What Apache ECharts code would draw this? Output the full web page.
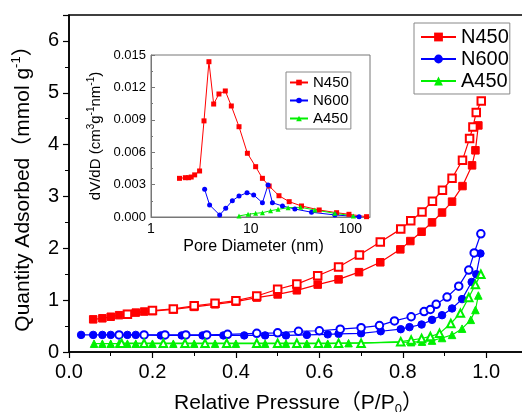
<!DOCTYPE html>
<html>
<head>
<meta charset="utf-8">
<script src="https://cdn.jsdelivr.net/npm/echarts@6/dist/echarts.min.js"></script>
<style>
  html, body { margin: 0; padding: 0; background: #fff; }
  #chart { width: 522px; height: 412px; }
</style>
</head>
<body>
<div id="chart"></div>
<script>
// isotherms: filled = adsorption, open = desorption
const n450AdsP = [0.058, 0.08, 0.10, 0.12, 0.14, 0.16, 0.18, 0.20, 0.25, 0.30, 0.35, 0.40, 0.45, 0.50, 0.546, 0.596, 0.646, 0.695, 0.746, 0.794, 0.818, 0.845, 0.87, 0.894, 0.918, 0.943, 0.966, 0.974, 0.981];
const n450AdsQ = [0.63, 0.65, 0.68, 0.71, 0.73, 0.76, 0.78, 0.79, 0.82, 0.87, 0.92, 0.97, 1.05, 1.11, 1.19, 1.30, 1.40, 1.54, 1.73, 1.98, 2.14, 2.32, 2.50, 2.69, 2.90, 3.20, 3.60, 3.89, 4.37];
const n450DesP = [0.14, 0.20, 0.25, 0.30, 0.35, 0.40, 0.45, 0.50, 0.546, 0.596, 0.646, 0.696, 0.746, 0.795, 0.819, 0.846, 0.871, 0.895, 0.918, 0.943, 0.960, 0.968, 0.976, 0.988];
const n450DesQ = [0.73, 0.80, 0.83, 0.89, 0.94, 0.99, 1.08, 1.21, 1.31, 1.47, 1.64, 1.87, 2.12, 2.37, 2.53, 2.70, 2.91, 3.12, 3.35, 3.70, 4.12, 4.34, 4.62, 4.84];

const n600AdsP = [0.029, 0.058, 0.08, 0.10, 0.14, 0.16, 0.22, 0.27, 0.32, 0.37, 0.42, 0.47, 0.52, 0.57, 0.62, 0.646, 0.70, 0.747, 0.795, 0.816, 0.845, 0.87, 0.894, 0.918, 0.942, 0.965, 0.976, 0.986];
const n600AdsQ = [0.33, 0.33, 0.33, 0.33, 0.33, 0.33, 0.32, 0.32, 0.32, 0.32, 0.32, 0.32, 0.32, 0.33, 0.34, 0.35, 0.36, 0.40, 0.44, 0.48, 0.53, 0.62, 0.71, 0.84, 1.02, 1.35, 1.50, 1.90];
const n600DesP = [0.12, 0.18, 0.23, 0.28, 0.33, 0.38, 0.45, 0.50, 0.55, 0.60, 0.65, 0.70, 0.744, 0.78, 0.82, 0.851, 0.866, 0.88, 0.906, 0.934, 0.958, 0.971, 0.987];
const n600DesQ = [0.33, 0.33, 0.33, 0.33, 0.33, 0.34, 0.36, 0.37, 0.40, 0.41, 0.44, 0.47, 0.51, 0.60, 0.68, 0.78, 0.82, 0.92, 1.06, 1.27, 1.58, 1.91, 2.28];

const a450AdsP = [0.06, 0.08, 0.10, 0.12, 0.14, 0.16, 0.20, 0.25, 0.30, 0.35, 0.40, 0.47, 0.52, 0.57, 0.62, 0.67, 0.82, 0.846, 0.87, 0.894, 0.918, 0.942, 0.963, 0.974, 0.981];
const a450AdsQ = [0.16, 0.16, 0.16, 0.16, 0.16, 0.16, 0.16, 0.16, 0.16, 0.16, 0.16, 0.16, 0.16, 0.16, 0.16, 0.17, 0.19, 0.20, 0.22, 0.27, 0.33, 0.45, 0.62, 0.81, 1.09];
const a450DesP = [0.126, 0.18, 0.226, 0.278, 0.326, 0.378, 0.45, 0.50, 0.546, 0.598, 0.646, 0.70, 0.795, 0.82, 0.845, 0.866, 0.888, 0.915, 0.938, 0.958, 0.974, 0.987];
const a450DesQ = [0.17, 0.17, 0.17, 0.17, 0.17, 0.17, 0.17, 0.17, 0.17, 0.17, 0.17, 0.17, 0.20, 0.23, 0.26, 0.30, 0.36, 0.55, 0.75, 1.05, 1.30, 1.50];

// inset: pore size distribution
const n450PoreD = [1.93, 2.21, 2.38, 2.53, 2.74, 3.07, 3.40, 3.81, 4.25, 4.80, 5.56, 6.39, 7.63, 9.26, 11.2, 13.1, 15.3, 19.2, 24.3, 32.3, 48.6, 72.6, 96.6, 145];
const n450PoreV = [0.00358, 0.00364, 0.00364, 0.0037, 0.0039, 0.00426, 0.0089, 0.01438, 0.01046, 0.01139, 0.01167, 0.01028, 0.00836, 0.0059, 0.00466, 0.00358, 0.00287, 0.00197, 0.00142, 0.00102, 0.00065, 0.0004, 0.00025, 0.00003];
const n600PoreD = [3.45, 3.87, 4.88, 5.61, 6.54, 7.63, 9.18, 10.7, 13.1, 14.9, 16.5, 20.8, 27.7, 40.7, 69.8, 122];
const n600PoreV = [0.00256, 0.00111, 0.00019, 0.0008, 0.00151, 0.00194, 0.00225, 0.00204, 0.00132, 0.00296, 0.00132, 0.00102, 0.00074, 0.00044, 0.00019, 0.00003];
const a450PoreD = [7.63, 9.4, 11.2, 13.1, 15.8, 18.8, 23.7, 31.6, 44, 69.8, 107];
const a450PoreV = [0.0001, 0.00025, 0.00034, 0.0004, 0.00058, 0.00071, 0.00086, 0.0009, 0.00065, 0.00034, 0.0001];

const sampleNames = ['N450', 'N600', 'A450'];
const colors = ['#ff0000', '#0000ff', '#00f000'];

const FONT = '"Liberation Sans", Arial, "Noto Sans CJK SC", sans-serif';

function zip(xs, ys) {
  return xs.map((x, i) => [x, ys[i]]);
}

function mainSeries(name, xs, ys, symbol, color) {
  return {
    name: name,
    type: 'line',
    xAxisIndex: 0,
    yAxisIndex: 0,
    data: zip(xs, ys),
    symbol: symbol,
    symbolSize: 7.5,
    showAllSymbol: true,
    color: color,
    lineStyle: { width: 1.2, color: color },
    itemStyle: { color: color, borderColor: color },
    emphasis: { disabled: true }
  };
}

function insetSeries(name, xs, ys, symbol, color) {
  return {
    name: name,
    type: 'line',
    xAxisIndex: 1,
    yAxisIndex: 1,
    data: zip(xs, ys),
    symbol: symbol,
    symbolSize: 5,
    showAllSymbol: true,
    color: color,
    lineStyle: { width: 1, color: color },
    itemStyle: { color: color },
    emphasis: { disabled: true }
  };
}

const chart = echarts.init(document.getElementById('chart'));

const option = {
  animation: false,
  backgroundColor: '#fff',
  textStyle: { fontFamily: FONT, color: '#000' },
  legend: [
    {
      data: sampleNames,
      orient: 'vertical',
      left: 414,
      top: 23,
      itemWidth: 35,
      itemHeight: 11,
      itemGap: 2,
      padding: [4, 1, 3, 6],
      borderColor: '#888',
      borderWidth: 1,
      textStyle: { fontSize: 20, fontFamily: FONT, color: '#000' }
    },
    {
      data: sampleNames,
      orient: 'vertical',
      left: 286,
      top: 72,
      itemWidth: 18,
      itemHeight: 7,
      itemGap: 3,
      padding: [3, 2, 3, 3],
      borderColor: '#888',
      borderWidth: 1,
      textStyle: { fontSize: 15, fontFamily: FONT, color: '#000' }
    }
  ],
  grid: [
    { left: 69, right: -6, top: 15, bottom: 60, show: true, borderColor: '#000', borderWidth: 1.5, outerBoundsMode: 'none' },
    { left: 151, right: 152, top: 55, bottom: 195, show: true, borderColor: '#777', borderWidth: 1, backgroundColor: '#fff', outerBoundsMode: 'none' }
  ],
  xAxis: [
    {
      gridIndex: 0,
      type: 'value',
      min: 0,
      max: 1.1,
      interval: 0.2,
      name: '{a|Relative Pressure（P/P}{b|0}{a|）}',
      nameLocation: 'middle',
      nameGap: 38,
      nameTextStyle: {
        rich: {
          a: { fontSize: 21, fontFamily: FONT, color: '#000', lineHeight: 26 },
          b: { fontSize: 13, fontFamily: FONT, color: '#000', verticalAlign: 'bottom', lineHeight: 26 }
        }
      },
      axisLine: { lineStyle: { color: '#000', width: 1.5 } },
      axisTick: { inside: false, length: 6, lineStyle: { color: '#000', width: 1.2 } },
      minorTick: { show: true, splitNumber: 2, length: 4, lineStyle: { color: '#000', width: 1 } },
      axisLabel: { fontSize: 20, margin: 10, color: '#000', showMaxLabel: false, formatter: v => v.toFixed(1) },
      splitLine: { show: false }
    },
    {
      gridIndex: 1,
      type: 'log',
      logBase: 10,
      min: 1,
      max: 157,
      name: 'Pore Diameter (nm)',
      nameLocation: 'middle',
      nameGap: 22,
      nameTextStyle: { fontSize: 16, color: '#000', padding: [0, 14, 0, 0] },
      axisLine: { lineStyle: { color: '#777', width: 1 } },
      axisTick: { inside: true, length: 4, lineStyle: { color: '#777' } },
      axisLabel: { fontSize: 14, margin: 5, color: '#000', showMaxLabel: false },
      splitLine: { show: false }
    }
  ],
  yAxis: [
    {
      gridIndex: 0,
      type: 'value',
      min: 0,
      max: 6.5,
      interval: 1,
      name: '{a|Quantity Adsorbed（mmol g}{s|-1}{a|）}',
      nameLocation: 'middle',
      nameGap: 33,
      nameTextStyle: {
        rich: {
          a: { fontSize: 21, fontFamily: FONT, color: '#000', lineHeight: 26 },
          s: { fontSize: 13, fontFamily: FONT, color: '#000', verticalAlign: 'top', lineHeight: 26 }
        }
      },
      axisLine: { lineStyle: { color: '#000', width: 1.5 } },
      axisTick: { inside: false, length: 6, lineStyle: { color: '#000', width: 1.2 } },
      minorTick: { show: true, splitNumber: 2, length: 4, lineStyle: { color: '#000', width: 1 } },
      axisLabel: { fontSize: 20, margin: 10, color: '#000', showMaxLabel: false },
      splitLine: { show: false }
    },
    {
      gridIndex: 1,
      type: 'value',
      min: 0,
      max: 0.015,
      interval: 0.003,
      name: '{a|dV/dD (cm}{s|3}{a|g}{s|-1}{a|nm}{s|-1}{a|)}',
      nameLocation: 'middle',
      nameGap: 46,
      nameTextStyle: {
        rich: {
          a: { fontSize: 15, fontFamily: FONT, color: '#000', lineHeight: 19 },
          s: { fontSize: 10, fontFamily: FONT, color: '#000', verticalAlign: 'top', lineHeight: 19 }
        }
      },
      axisLine: { lineStyle: { color: '#777', width: 1 } },
      axisTick: { inside: true, length: 4, lineStyle: { color: '#777' } },
      minorTick: { show: true, splitNumber: 2, length: 2, lineStyle: { color: '#777' } },
      axisLabel: { fontSize: 13, margin: 5, color: '#000', formatter: v => v.toFixed(3) },
      splitLine: { show: false }
    }
  ],
  series: [
    mainSeries('N450', n450AdsP, n450AdsQ, 'rect', colors[0]),
    mainSeries('N450 des', n450DesP, n450DesQ, 'emptyRect', colors[0]),
    mainSeries('N600', n600AdsP, n600AdsQ, 'circle', colors[1]),
    mainSeries('N600 des', n600DesP, n600DesQ, 'emptyCircle', colors[1]),
    mainSeries('A450', a450AdsP, a450AdsQ, 'triangle', colors[2]),
    mainSeries('A450 des', a450DesP, a450DesQ, 'emptyTriangle', colors[2]),
    insetSeries('N450', n450PoreD, n450PoreV, 'rect', colors[0]),
    insetSeries('N600', n600PoreD, n600PoreV, 'circle', colors[1]),
    insetSeries('A450', a450PoreD, a450PoreV, 'triangle', colors[2])
  ]
};

chart.setOption(option);
</script>
</body>
</html>
